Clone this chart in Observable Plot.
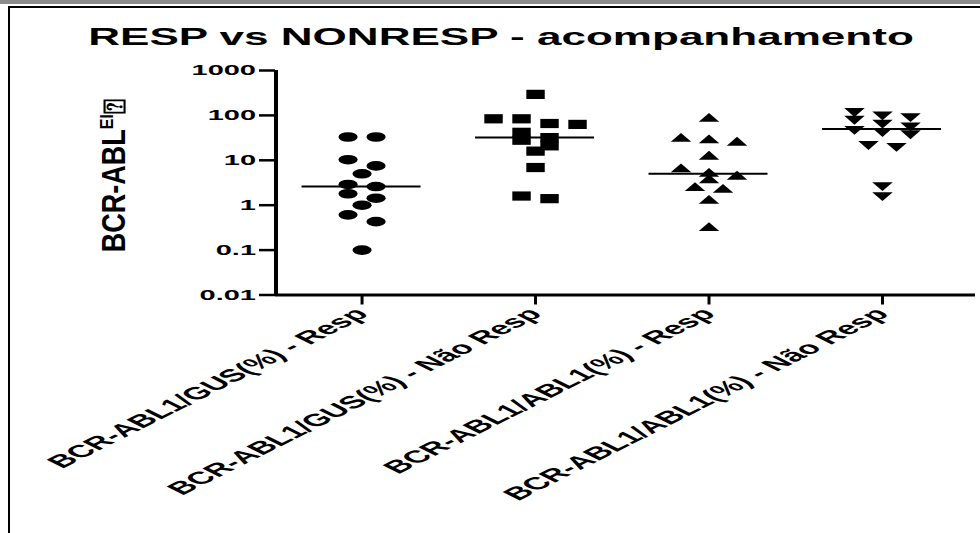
<!DOCTYPE html>
<html><head><meta charset="utf-8">
<script src="https://cdn.jsdelivr.net/npm/d3@7"></script>
<script src="https://cdn.jsdelivr.net/npm/@observablehq/plot@0.6"></script>
<style>
html,body{margin:0;padding:0;background:#fff;}
#page{position:relative;width:980px;height:533px;overflow:hidden;background:#fff;font-family:"Liberation Sans",Arial,sans-serif;}
#topbar{position:absolute;left:0;top:0;width:980px;height:4px;background:#8c8c8c;}
#frame{position:absolute;left:8px;top:6px;width:1000px;height:600px;border-left:2px solid #000;border-top:2px solid #000;}
#title{position:absolute;left:0;width:1002px;top:24.7px;text-align:center;font-size:24px;line-height:24px;font-weight:bold;color:#000;white-space:nowrap;transform:scaleX(1.835);transform-origin:501px 0;}
#chart{position:absolute;left:0;top:58px;transform:scaleX(2);transform-origin:0 0;}
</style>
</head><body>
<div id="page">
  <div id="topbar"></div>
  <div id="frame"></div>
  <div id="title"></div>
  <div id="chart"></div>
</div>
<script>
// ---- data ----
const title = "RESP vs NONRESP - acompanhamento";
const groups = [
  "BCR-ABL1/GUS(%) - Resp",
  "BCR-ABL1/GUS(%) - Não Resp",
  "BCR-ABL1/ABL1(%) - Resp",
  "BCR-ABL1/ABL1(%) - Não Resp"
];
const gusResp    = [33, 33, 10.3, 7.5, 5.0, 2.9, 2.6, 1.8, 1.43, 1.0, 0.61, 0.43, 0.10];
const gusNaoResp = [294, 84, 84, 66, 63, 42, 32, 28, 21, 16, 6.9, 1.6, 1.4];
const ablResp    = [84, 30, 27.8, 24.6, 12, 6.3, 5.0, 4.3, 3.6, 2.4, 2.2, 1.25, 0.31];
const ablNaoResp = [125, 105, 96, 84, 69, 60, 50, 45, 40, 23, 21, 2.8, 1.67];
const yTicks = [0.01, 0.1, 1, 10, 100, 1000];
const yTickLabels = ["0.01", "0.1", "1", "10", "100", "1000"];
const yLabelMain = "BCR-ABL";
const yLabelSup = "EI";
const yLabelTail = "\u2370";

document.getElementById("title").textContent = title;

const series = [gusResp, gusNaoResp, ablResp, ablNaoResp];

// scatter-column layout (rows of nearby values spread side by side)
const SLOT = 0.1614, ROW = 0.1667;
const points = [];
series.forEach((vals, gi) => {
  const pts = vals.map(v => ({group: groups[gi], gi, value: v, lv: Math.log10(v)}))
    .sort((a, b) => b.lv - a.lv);
  let i = 0;
  while (i < pts.length) {
    let j = i;
    while (j + 1 < pts.length && pts[i].lv - pts[j + 1].lv < ROW) j++;
    const k = j - i + 1;
    for (let m = 0; m < k; m++) pts[i + m].xpos = gi + (m - (k - 1) / 2) * SLOT;
    i = j + 1;
  }
  points.push(...pts);
});
const medians = groups.map((g, gi) => ({gi, median: d3.median(series[gi])}));

const triangleDown = {
  draw(context, size) {
    const y = Math.sqrt(size / (3 * Math.sqrt(3)));
    context.moveTo(0, 2 * y);
    context.lineTo(-Math.sqrt(3) * y, -y);
    context.lineTo(Math.sqrt(3) * y, -y);
    context.closePath();
  }
};
const symbols = ["circle", "square", "triangle", triangleDown];
const radii = [4.8, 5.2, 3.8, 3.8];
const xDomain = [-0.496, 3.539];

const svg = Plot.plot({
  width: 490,
  height: 475,
  marginLeft: 137.5,
  marginRight: 2.5,
  marginTop: 12,
  marginBottom: 238.5,
  style: {fontFamily: "'Liberation Sans', Arial, sans-serif", fontWeight: "bold", color: "black", background: "transparent", overflow: "visible"},
  x: {type: "linear", domain: xDomain},
  y: {type: "log", domain: [0.01, 1000]},
  marks: [
    Plot.axisY({ticks: yTicks, tickFormat: d => yTickLabels[yTicks.indexOf(d)], tickSize: 8, tickPadding: 2, fontSize: 14.5, strokeWidth: 2.5, label: null}),
    Plot.axisX({ticks: [0, 1, 2, 3], tickFormat: d => groups[d], tickRotate: -45, tickSize: 10, tickPadding: 6, fontSize: 17.5, strokeWidth: 1.5, label: null}),
    Plot.ruleY([0.01], {strokeWidth: 3}),
    Plot.ruleX([xDomain[0]], {strokeWidth: 2}),
    Plot.ruleY(medians, {y: "median", x1: d => d.gi - 0.343, x2: d => d.gi + 0.343, strokeWidth: 2}),
    ...groups.map((g, gi) => Plot.dot(points.filter(p => p.gi === gi), {
      x: "xpos", y: "value", symbol: symbols[gi], r: radii[gi], fill: "black", stroke: "none"
    }))
  ]
});

const sel = d3.select(svg);
const t = sel.append("text")
  .attr("transform", "translate(62.5,117.5) rotate(-90) scale(1,0.6)")
  .attr("text-anchor", "middle")
  .attr("font-size", 27)
  .attr("font-weight", "bold")
  .attr("fill", "black");
t.append("tspan").text(yLabelMain);
t.append("tspan").attr("font-size", 16).attr("dy", -10).text(yLabelSup);
t.append("tspan").attr("font-size", 25).attr("dy", 10).text(yLabelTail);

document.getElementById("chart").appendChild(svg);
</script>
</body></html>
